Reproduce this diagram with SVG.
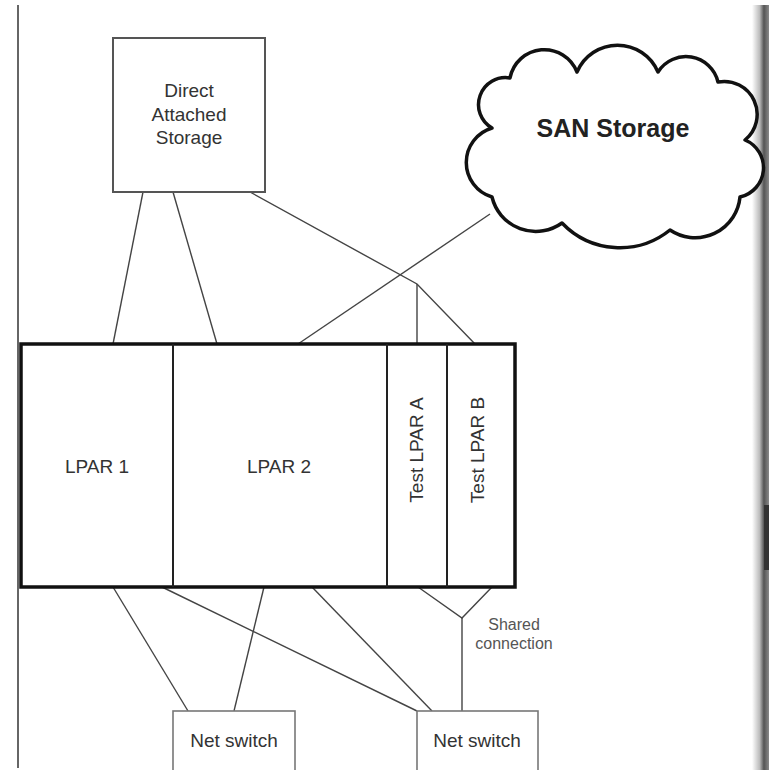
<svg xmlns="http://www.w3.org/2000/svg" width="769" height="770" viewBox="0 0 769 770">
<defs>
<linearGradient id="edge" x1="0" y1="0" x2="1" y2="0">
<stop offset="0" stop-color="#ffffff"/>
<stop offset="0.45" stop-color="#bbbbbb"/>
<stop offset="0.7" stop-color="#555555"/>
<stop offset="1" stop-color="#8a8a8a"/>
</linearGradient>
<style>
.lbl{font-family:"Liberation Sans",Arial,sans-serif;font-size:19px;fill:#333;text-anchor:middle}
.small{font-family:"Liberation Sans",Arial,sans-serif;font-size:16px;fill:#555;text-anchor:middle}
.conn line, .conn polyline{stroke:#444;stroke-width:1.4;fill:none}
.box{fill:#fff;stroke:#555;stroke-width:2}
.sw{fill:#fff;stroke:#777;stroke-width:1.6}
</style>
</defs>
<rect width="769" height="770" fill="#fff"/>
<rect x="752" y="5" width="17" height="765" fill="url(#edge)"/>
<rect x="764" y="505" width="5" height="65" fill="#333"/>
<line x1="18" y1="5" x2="18" y2="768" stroke="#666" stroke-width="2"/>

<g id="connectors" class="conn">
<line x1="143" y1="192" x2="113" y2="344"/>
<line x1="173" y1="192" x2="217" y2="344"/>
<polyline points="250,192 417,284 475,344"/>
<line x1="417" y1="284" x2="417" y2="344"/>
<line x1="490" y1="214" x2="298" y2="344"/>
<line x1="113" y1="587" x2="188" y2="711"/>
<line x1="162" y1="587" x2="417" y2="711"/>
<line x1="264" y1="587" x2="234" y2="711"/>
<line x1="312" y1="587" x2="432" y2="711"/>
<polyline points="418,587 462,618 492,587"/>
<line x1="462" y1="618" x2="462" y2="711"/>
</g>

<g id="das">
<rect class="box" x="113" y="38" width="152" height="154"/>
<text class="lbl" x="189" y="97">Direct</text>
<text class="lbl" x="189" y="121">Attached</text>
<text class="lbl" x="189" y="144">Storage</text>
</g>

<g id="san">
<path d="M510,78 A35,35 0 0 1 577,72 A44,44 0 0 1 658,72 A33,33 0 0 1 718,82 A33,33 0 0 1 745,140 A30,30 0 0 1 740,197 A45,45 0 0 1 670,230 A80,80 0 0 1 562,223 A45,45 0 0 1 492,197 A36,36 0 0 1 492,128 A27,27 0 0 1 510,78 Z" fill="#fff" stroke="#111" stroke-width="3.5" stroke-linejoin="round"/>
<text x="613" y="137" font-family="'Liberation Sans',Arial,sans-serif" font-size="25" font-weight="bold" fill="#222" text-anchor="middle">SAN Storage</text>
</g>

<g id="server">
<rect x="21" y="344" width="494" height="243" fill="#fff" stroke="#111" stroke-width="3.5"/>
<line x1="173" y1="344" x2="173" y2="587" stroke="#222" stroke-width="2"/>
<line x1="387" y1="344" x2="387" y2="587" stroke="#222" stroke-width="2"/>
<line x1="447" y1="344" x2="447" y2="587" stroke="#222" stroke-width="2"/>
</g>
<g id="lpar1"><text class="lbl" x="97" y="473">LPAR 1</text></g>
<g id="lpar2"><text class="lbl" x="279" y="473">LPAR 2</text></g>
<g id="testA"><text class="lbl" transform="translate(423,450) rotate(-90)">Test LPAR A</text></g>
<g id="testB"><text class="lbl" transform="translate(484,450) rotate(-90)">Test LPAR B</text></g>

<g id="shared">
<text class="small" x="514" y="630">Shared</text>
<text class="small" x="514" y="649">connection</text>
</g>

<g id="switch1">
<rect class="sw" x="173" y="711" width="122" height="70"/>
<text class="lbl" x="234" y="747">Net switch</text>
</g>
<g id="switch2">
<rect class="sw" x="417" y="711" width="121" height="70"/>
<text class="lbl" x="477" y="747">Net switch</text>
</g>
</svg>
